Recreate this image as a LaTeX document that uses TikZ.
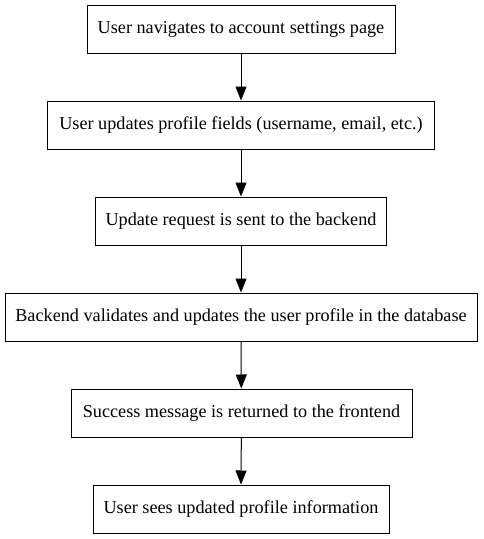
\documentclass[tikz,border=0pt]{standalone}
\usepackage{fontspec}
\setmainfont{Liberation Serif}
\usetikzlibrary{arrows.meta}
\begin{document}
\begin{tikzpicture}[x=1pt, y=-1pt,
    stepbox/.style = {draw, line width=1pt, minimum height=48pt, inner sep=0pt,
                      font=\fontsize{18.2}{22}\selectfont},
    flow/.style = {line width=1pt, -{Triangle[length=14pt, width=11pt]}}]
    \useasboundingbox (0,0) rectangle (483,539);
    \node [stepbox, minimum width=308pt] (nav) at (241,29) {User navigates to account settings page};
    \node [stepbox, minimum width=387pt] (fields) at (241,125) {User updates profile fields (username, email, etc.)};
    \node [stepbox, minimum width=291pt] (request) at (241,221) {Update request is sent to the backend};
    \node [stepbox, minimum width=472pt] (validate) at (241,317) {Backend validates and updates the user profile in the database};
    \node [stepbox, minimum width=341pt] (success) at (241.5,413) {Success message is returned to the frontend};
    \node [stepbox, minimum width=296pt] (sees) at (241,509) {User sees updated profile information};
    \draw [flow] (nav) -- (fields);
    \draw [flow] (fields) -- (request);
    \draw [flow] (request) -- (validate);
    \draw [flow] (validate.south) -- (success);
    \draw [flow] (success) -- (sees.north);
\end{tikzpicture}
\end{document}
